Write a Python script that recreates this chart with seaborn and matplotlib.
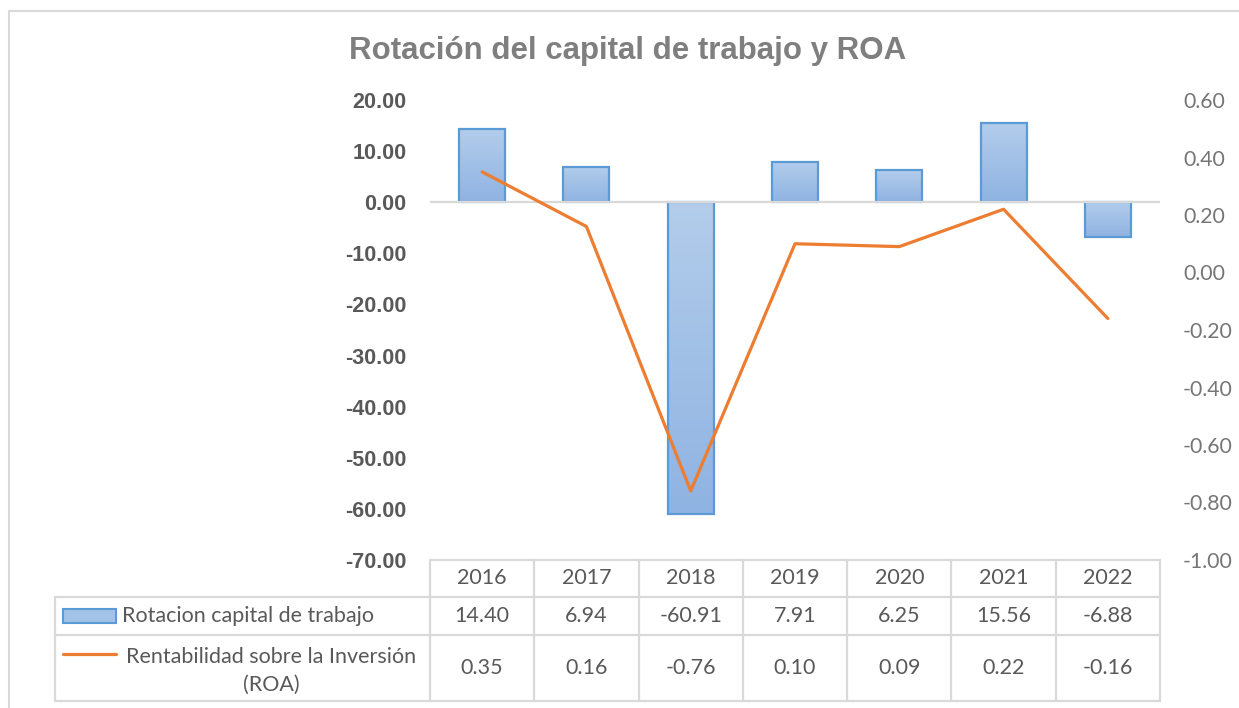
import numpy as np
import matplotlib
matplotlib.use("Agg")
import matplotlib.pyplot as plt
from matplotlib.lines import Line2D
from matplotlib.patches import Rectangle
from matplotlib.colors import LinearSegmentedColormap
import seaborn as sns

# ---- data ----
years = ["2016", "2017", "2018", "2019", "2020", "2021", "2022"]
rotacion = [14.40, 6.94, -60.91, 7.91, 6.25, 15.56, -6.88]
roa = [0.35, 0.16, -0.76, 0.10, 0.09, 0.22, -0.16]
left_ticks = [20, 10, 0, -10, -20, -30, -40, -50, -60, -70]
right_ticks = [0.6, 0.4, 0.2, 0.0, -0.2, -0.4, -0.6, -0.8, -1.0]
title = "Rotación del capital de trabajo y ROA"
label_bar = "Rotacion capital de trabajo"
label_line = "Rentabilidad sobre la Inversión\n(ROA)"

sns.set_style("white")
plt.rcParams["font.family"] = ["Lato", "DejaVu Sans"]

W, H = 1239, 708
fig = plt.figure(figsize=(W / 100, H / 100), dpi=100)

def fx(x):
    return x / W

def fy(y):
    return 1 - y / H

GRID = "#d9d9d9"
TXT = "#595959"
BAR_EDGE = "#5b9bd5"
LINE_C = "#ed7d31"

# plot area in pixels
L, R, T, B = 430, 1160, 100, 560
ax = fig.add_axes([fx(L), fy(B), (R - L) / W, (B - T) / H])
idx = np.arange(len(years))

sns.barplot(x=idx, y=rotacion, ax=ax, width=0.44, color="#a3c2e8",
            edgecolor=BAR_EDGE, linewidth=1.6, native_scale=False)
ax.set_xlim(-0.5, len(years) - 0.5)
ax.set_ylim(min(left_ticks), max(left_ticks))

cmap = LinearSegmentedColormap.from_list("g", ["#b3cdeb", "#8fb3e2"])
grad = np.linspace(0, 1, 256).reshape(-1, 1)
for p in list(ax.patches):
    x0, y0 = p.get_x(), p.get_y()
    w, h = p.get_width(), p.get_height()
    ylo, yhi = min(y0, y0 + h), max(y0, y0 + h)
    im = ax.imshow(grad, extent=[x0, x0 + w, ylo, yhi], origin="upper",
                   aspect="auto", cmap=cmap, zorder=p.get_zorder() - 0.1)
    im.set_clip_path(p)
    p.set_facecolor("none")
ax.set_xlim(-0.5, len(years) - 0.5)
ax.set_ylim(min(left_ticks), max(left_ticks))
ax.set_aspect("auto")

ax.axhline(0, color=GRID, lw=1.6, zorder=1)
ax.set_yticks(left_ticks)
ax.set_yticklabels([f"{t:.2f}" for t in left_ticks], fontweight="bold",
                   fontsize=15.5, color=TXT, family=["Liberation Sans", "DejaVu Sans"])
ax.set_xticks([])
ax.set_xlabel("")
ax.tick_params(axis="y", length=0, pad=17)
for s in ax.spines.values():
    s.set_visible(False)

ax2 = ax.twinx()
sns.lineplot(x=idx, y=roa, ax=ax2, color=LINE_C, lw=2.3, legend=False)
ax2.set_ylim(min(right_ticks), max(right_ticks))
ax2.set_yticks(right_ticks)
ax2.set_yticklabels([f"{t:.2f}" for t in right_ticks], fontsize=15.3, color="#767676")
ax2.tick_params(axis="y", length=0, pad=16.5)
ax2.set_xlim(-0.5, len(years) - 0.5)
for s in ax2.spines.values():
    s.set_visible(False)

# ---- title ----
fig.text(fx(628), fy(51), title, ha="center", va="center", fontsize=22.5,
         fontweight="bold", color="#7f7f7f", family=["Liberation Sans", "DejaVu Sans"])

# ---- chart frame ----
fig.add_artist(Line2D([fx(9), fx(W + 5)], [fy(11), fy(11)], color=GRID, lw=1.5,
                      transform=fig.transFigure))
fig.add_artist(Line2D([fx(9), fx(9)], [fy(11), fy(H + 5)], color=GRID, lw=1.5,
                      transform=fig.transFigure))

# ---- data table ----
TL = 55
rows_y = [560, 597, 635, 701]
colw = (R - L) / len(years)
def hline(y, x0, x1):
    fig.add_artist(Line2D([fx(x0), fx(x1)], [fy(y), fy(y)], color=GRID, lw=1.6,
                          transform=fig.transFigure))
def vline(x, y0, y1):
    fig.add_artist(Line2D([fx(x), fx(x)], [fy(y0), fy(y1)], color=GRID, lw=1.6,
                          transform=fig.transFigure))

hline(rows_y[0], L, R)
for y in rows_y[1:]:
    hline(y, TL, R)
vline(TL, rows_y[1], rows_y[3])
for i in range(len(years) + 1):
    vline(L + i * colw, rows_y[0], rows_y[3])

TS = 15.5
for i, yr in enumerate(years):
    cx = L + (i + 0.5) * colw
    fig.text(fx(cx), fy((rows_y[0] + rows_y[1]) / 2), yr, ha="center", va="center",
             fontsize=TS, color=TXT)
    fig.text(fx(cx), fy((rows_y[1] + rows_y[2]) / 2), f"{rotacion[i]:.2f}",
             ha="center", va="center", fontsize=TS, color=TXT)
    fig.text(fx(cx), fy((rows_y[2] + rows_y[3]) / 2), f"{roa[i]:.2f}",
             ha="center", va="center", fontsize=TS, color=TXT)

# legend keys
fig.add_artist(Rectangle((fx(63), fy(623)), fx(116) - fx(63), fy(609) - fy(623),
                         transform=fig.transFigure, facecolor="#a3c2e8",
                         edgecolor=BAR_EDGE, lw=1.5))
fig.add_artist(Line2D([fx(63), fx(116)], [fy(654), fy(654)], color=LINE_C, lw=2.3,
                      transform=fig.transFigure))
fig.text(fx(122), fy(616), label_bar, ha="left", va="center", fontsize=TS, color=TXT)
fig.text(fx(271), fy(671), label_line, ha="center", va="center", fontsize=TS,
         color=TXT, multialignment="center", linespacing=1.45)

fig.savefig("out.png", dpi=100)
